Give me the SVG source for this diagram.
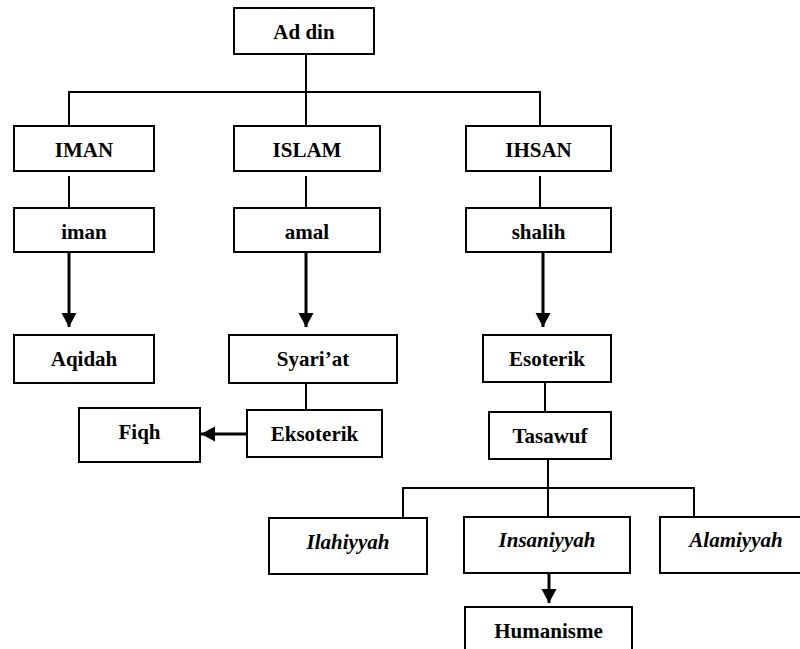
<svg xmlns="http://www.w3.org/2000/svg" width="800" height="649" viewBox="0 0 800 649">
<style>
.box{fill:#fff;stroke:#000;stroke-width:2}
.t{font-family:"Liberation Serif","Times New Roman",serif;font-weight:bold;font-size:21px;text-anchor:middle;fill:#000}
.i{font-style:italic}
.ln{fill:none;stroke:#000;stroke-width:2}
.ar{fill:none;stroke:#000;stroke-width:3}
</style>
<defs>
<marker id="ah" markerUnits="userSpaceOnUse" markerWidth="16" markerHeight="16" refX="14" refY="7.5" orient="auto">
<path d="M0,0 L14,7.5 L0,15 z" fill="#000"/>
</marker>
</defs>
<rect width="800" height="649" fill="#fff"/>
<g id="connectors">
<path class="ln" d="M306,54 V126 M69,126 V92 H540 V126"/>
<path class="ln" d="M69,176 V208 M306,176 V208 M540,176 V208"/>
<path class="ln" d="M306,383 V410 M545,382 V412"/>
<path class="ln" d="M548,459 V517 M403,518 V488 H694 V517"/>
<line class="ar" x1="69" y1="252" x2="69" y2="327" marker-end="url(#ah)"/>
<line class="ar" x1="306" y1="252" x2="306" y2="327" marker-end="url(#ah)"/>
<line class="ar" x1="543" y1="252" x2="543" y2="327" marker-end="url(#ah)"/>
<line class="ar" x1="247" y1="434" x2="201" y2="434" marker-end="url(#ah)"/>
<line class="ar" x1="549" y1="573" x2="549" y2="603" marker-end="url(#ah)"/>
</g>
<g id="addin"><rect class="box" x="234" y="8" width="140" height="46"/><text class="t" x="304" y="39">Ad din</text></g>
<g id="IMAN"><rect class="box" x="14" y="126" width="140" height="45"/><text class="t" x="84" y="157">IMAN</text></g>
<g id="ISLAM"><rect class="box" x="234" y="126" width="146" height="45"/><text class="t" x="307" y="157">ISLAM</text></g>
<g id="IHSAN"><rect class="box" x="466" y="126" width="145" height="45"/><text class="t" x="538.5" y="157">IHSAN</text></g>
<g id="iman"><rect class="box" x="14" y="208" width="140" height="44"/><text class="t" x="84" y="239">iman</text></g>
<g id="amal"><rect class="box" x="234" y="208" width="146" height="44"/><text class="t" x="307" y="239">amal</text></g>
<g id="shalih"><rect class="box" x="466" y="208" width="145" height="44"/><text class="t" x="538.5" y="239">shalih</text></g>
<g id="aqidah"><rect class="box" x="14" y="335" width="140" height="48"/><text class="t" x="84" y="366">Aqidah</text></g>
<g id="syariat"><rect class="box" x="229" y="335" width="168" height="48"/><text class="t" x="313" y="366">Syari’at</text></g>
<g id="esoterik"><rect class="box" x="483" y="335" width="128" height="47"/><text class="t" x="547" y="366">Esoterik</text></g>
<g id="fiqh"><rect class="box" x="79" y="408" width="121" height="54"/><text class="t" x="139.5" y="439">Fiqh</text></g>
<g id="eksoterik"><rect class="box" x="247" y="410" width="135" height="47"/><text class="t" x="314.5" y="441">Eksoterik</text></g>
<g id="tasawuf"><rect class="box" x="489" y="412" width="122" height="47"/><text class="t" x="550" y="443">Tasawuf</text></g>
<g id="ilahiyyah"><rect class="box" x="269" y="518" width="158" height="56"/><text class="t i" x="348" y="549">Ilahiyyah</text></g>
<g id="insaniyyah"><rect class="box" x="464" y="517" width="166" height="56"/><text class="t i" x="547" y="547">Insaniyyah</text></g>
<g id="alamiyyah"><rect class="box" x="660" y="517" width="152" height="56"/><text class="t i" x="736" y="547">Alamiyyah</text></g>
<g id="humanisme"><rect class="box" x="465" y="607" width="167" height="50"/><text class="t" x="548.5" y="638">Humanisme</text></g>
</svg>
